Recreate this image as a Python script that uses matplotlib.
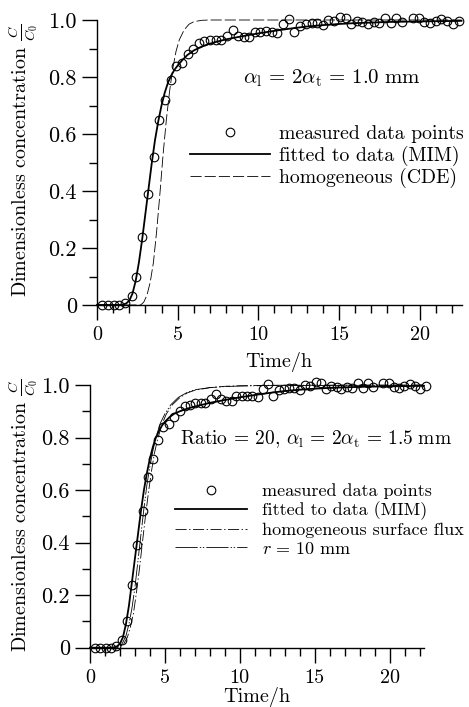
import matplotlib
matplotlib.use("Agg")
import matplotlib.pyplot as plt
from matplotlib.ticker import MultipleLocator, FixedLocator, FixedFormatter

plt.rcParams['font.family'] = 'serif'
plt.rcParams['font.serif'] = ['cmr10']
plt.rcParams['mathtext.fontset'] = 'cm'
plt.rcParams['axes.formatter.use_mathtext'] = True
plt.rcParams['lines.scale_dashes'] = False

# ---- measured data (same data in both panels) ----
t_meas = [0.33, 0.70, 1.05, 1.39, 1.76, 2.15, 2.44, 2.81, 3.16, 3.52, 3.87, 4.20, 4.57,
          4.88, 5.29, 5.63, 5.98, 6.31, 6.66, 7.03, 7.38, 7.69, 8.09, 8.42, 8.73, 9.10,
          9.45, 9.78, 10.13, 10.49, 10.84, 11.19, 11.54, 11.91, 12.24, 12.60, 12.95,
          13.30, 13.65, 14.00, 14.35, 14.70, 15.06, 15.41, 15.74, 16.09, 16.46, 16.79,
          17.15, 17.50, 17.87, 18.20, 18.55, 18.90, 19.59, 19.96, 20.29, 20.64, 20.99,
          21.34, 21.70, 22.05, 22.46]
c_meas = [0.0, 0.0, 0.0, 0.0, 0.006, 0.03, 0.10, 0.24, 0.39, 0.52, 0.65, 0.72, 0.79,
          0.84, 0.85, 0.88, 0.90, 0.92, 0.925, 0.93, 0.93, 0.93, 0.945, 0.966, 0.945, 0.94,
          0.94, 0.957, 0.957, 0.96, 0.957, 0.955, 0.985, 1.002, 0.957, 0.98, 0.985,
          0.988, 0.988, 0.982, 1.0, 0.996, 1.011, 1.006, 0.986, 0.998, 0.992, 0.986,
          0.992, 0.988, 1.008, 0.988, 1.008, 0.992, 1.006, 1.006, 0.992, 0.988, 0.996,
          1.003, 0.998, 0.986, 0.998]

# ---- top panel curves ----
t_mim = [0.0, 1.5, 1.8, 2.0, 2.2, 2.4, 2.6, 2.8, 3.0, 3.2, 3.4, 3.6, 3.8, 4.0, 4.2,
         4.4, 4.6, 4.8, 5.0, 5.3, 5.6, 6.0, 6.5, 7.0, 7.5, 8.0, 9.0, 10.0, 11.0, 12.0,
         13.0, 14.0, 15.0, 16.0, 17.0, 18.0, 20.0, 22.6]
c_mim = [0.0, 0.0, 0.005, 0.015, 0.04, 0.085, 0.15, 0.23, 0.32, 0.41, 0.50, 0.58, 0.645,
         0.70, 0.745, 0.78, 0.805, 0.825, 0.84, 0.86, 0.877, 0.893, 0.907, 0.917, 0.925,
         0.932, 0.943, 0.953, 0.962, 0.970, 0.977, 0.982, 0.986, 0.989, 0.991, 0.993,
         0.995, 0.997]

t_cde = [0.0, 2.7, 2.9, 3.1, 3.3, 3.5, 3.7, 3.9, 4.1, 4.3, 4.5, 4.7, 4.9, 5.1, 5.4,
         5.7, 6.0, 6.5, 7.0, 22.6]
c_cde = [0.0, 0.0, 0.01, 0.035, 0.08, 0.15, 0.26, 0.39, 0.53, 0.65, 0.75, 0.83, 0.89,
         0.93, 0.965, 0.985, 0.994, 0.999, 1.0, 1.0]

# ---- bottom panel curves ----
t_mim2 = [0.0, 1.5, 1.8, 2.0, 2.2, 2.4, 2.6, 2.8, 3.0, 3.2, 3.4, 3.6, 3.8, 4.0, 4.2,
          4.4, 4.6, 4.8, 5.0, 5.3, 5.6, 6.0, 6.5, 7.0, 7.5, 8.0, 9.0, 10.0, 11.0, 12.0,
          13.0, 14.0, 15.0, 16.0, 17.0, 18.0, 20.0, 22.3]
c_mim2 = [0.0, 0.0, 0.005, 0.015, 0.04, 0.09, 0.16, 0.25, 0.34, 0.43, 0.52, 0.60, 0.665,
          0.72, 0.765, 0.80, 0.825, 0.845, 0.86, 0.877, 0.89, 0.90, 0.91, 0.918, 0.925,
          0.932, 0.943, 0.953, 0.962, 0.970, 0.977, 0.982, 0.986, 0.989, 0.991, 0.993,
          0.995, 0.997]

t_hsf = [0.0, 1.8, 2.2, 2.5, 2.7, 2.9, 3.1, 3.3, 3.5, 3.7, 3.9, 4.1, 4.3, 4.5, 4.8,
         5.1, 5.5, 6.0, 6.5, 7.0, 8.0, 9.0, 10.0, 12.0, 22.3]
c_hsf = [0.0, 0.0, 0.01, 0.04, 0.08, 0.13, 0.21, 0.30, 0.40, 0.50, 0.59, 0.67, 0.74,
         0.79, 0.85, 0.89, 0.925, 0.952, 0.97, 0.98, 0.99, 0.995, 0.997, 0.999, 1.0]

t_r10 = [0.0, 1.7, 2.1, 2.4, 2.6, 2.8, 3.0, 3.2, 3.4, 3.6, 3.8, 4.0, 4.2, 4.4, 4.7,
         5.0, 5.4, 5.9, 6.5, 7.0, 8.0, 9.0, 10.0, 12.0, 22.3]
c_r10 = [0.0, 0.0, 0.01, 0.045, 0.09, 0.15, 0.23, 0.33, 0.43, 0.53, 0.62, 0.69, 0.75,
         0.80, 0.855, 0.89, 0.925, 0.953, 0.972, 0.982, 0.99, 0.994, 0.996, 0.998, 0.999]

yticks = [0.0, 0.2, 0.4, 0.6, 0.8, 1.0]
ytick_labels = ['0', '0.2', '0.4', '0.6', '0.8', '1.0']
xticks = [0, 5, 10, 15, 20]
xtick_labels = ['0', '5', '10', '15', '20']

FS_YTICK = 16
FS_XTICK = 14.5
FS_YLAB = 14.5

fig = plt.figure(figsize=(4.69, 7.07), dpi=100)
W, H = 469.0, 707.0


def style_axes(ax, xmax):
    ax.set_xlim(0, xmax)
    ax.set_ylim(0, 1.0)
    for s in ('top', 'right'):
        ax.spines[s].set_visible(False)
    for s in ('left', 'bottom'):
        ax.spines[s].set_linewidth(1.0)
    ax.yaxis.set_major_locator(FixedLocator(yticks))
    ax.yaxis.set_major_formatter(FixedFormatter(ytick_labels))
    ax.yaxis.set_minor_locator(MultipleLocator(0.1))
    ax.xaxis.set_major_locator(FixedLocator(xticks))
    ax.xaxis.set_major_formatter(FixedFormatter(xtick_labels))
    ax.xaxis.set_minor_locator(MultipleLocator(1))
    ax.tick_params(which='major', direction='out', length=10.5, width=1.0)
    ax.tick_params(axis='y', which='major', labelsize=FS_YTICK, pad=4)
    ax.tick_params(axis='x', which='major', labelsize=FS_XTICK, pad=5)
    ax.tick_params(which='minor', direction='out', length=5.5, width=1.0)
    ax.set_xlabel('Time/h', fontsize=FS_XTICK, labelpad=0)
    ax.set_ylabel(r'Dimensionless concentration $\frac{C}{C_0}$', fontsize=FS_YLAB)


# ---------------- top panel ----------------
ax1 = fig.add_axes([97 / W, 1 - 305 / H, 364.5 / W, 285 / H])
style_axes(ax1, 22.6)
ax1.plot(t_meas, c_meas, linestyle='none', marker='o', markersize=6.2,
         markerfacecolor='none', markeredgecolor='black', markeredgewidth=0.8,
         clip_on=False, label='measured data points', zorder=3)
ax1.plot(t_mim, c_mim, color='black', linewidth=1.3, label='fitted to data (MIM)',
         clip_on=False)
ax1.plot(t_cde, c_cde, color='black', linewidth=0.6, dashes=(8, 2.2),
         label='homogeneous (CDE)', clip_on=False)
ax1.text(332 / W, 1 - 78 / H, r'$\alpha_{\rm l}\,=\,2\alpha_{\rm t}\,=\,1.0\ {\rm mm}$',
         transform=fig.transFigure, ha='center', va='center', fontsize=15)
leg1 = ax1.legend(loc='upper left', bbox_to_anchor=(190 / W, 1 - 125 / H),
                  bbox_transform=fig.transFigure, frameon=False, fontsize=14.2,
                  handlelength=4.05, handletextpad=0.45, borderpad=0, borderaxespad=0,
                  labelspacing=0.12, numpoints=1)
ax1.xaxis.set_label_coords(0.5, -0.165)
ax1.yaxis.set_label_coords((40 - 97) / 364.5, 0.51)

# ---------------- bottom panel ----------------
ax2 = fig.add_axes([90 / W, 1 - 647.7 / H, 334 / W, 262.7 / H])
style_axes(ax2, 22.3)
ax2.plot(t_meas, c_meas, linestyle='none', marker='o', markersize=6.2,
         markerfacecolor='none', markeredgecolor='black', markeredgewidth=0.8,
         clip_on=False, label='measured data points', zorder=3)
ax2.plot(t_mim2, c_mim2, color='black', linewidth=1.3, label='fitted to data (MIM)',
         clip_on=False)
ax2.plot(t_hsf, c_hsf, color='black', linewidth=0.6, dashes=(8, 1.8, 1, 1.8),
         label='homogeneous surface flux', clip_on=False)
ax2.plot(t_r10, c_r10, color='black', linewidth=0.6, dashes=(16, 1.5, 1, 1.2, 1, 1.5),
         label=r'$r\,=\,10\ {\rm mm}$', clip_on=False)
ax2.text(316 / W, 1 - 439 / H, r'Ratio = 20, $\alpha_{\rm l}\,=\,2\alpha_{\rm t}\,=\,1.5\ {\rm mm}$',
         transform=fig.transFigure, ha='center', va='center', fontsize=14)
leg2 = ax2.legend(loc='upper left', bbox_to_anchor=(175 / W, 1 - 483 / H),
                  bbox_transform=fig.transFigure, frameon=False, fontsize=13,
                  handlelength=4.0, handletextpad=0.8, borderpad=0, borderaxespad=0,
                  labelspacing=0.14, numpoints=1)
ax2.xaxis.set_label_coords(0.5, -0.15)
ax2.yaxis.set_label_coords((40 - 90) / 334, 0.505)

fig.savefig('out.png', dpi=100)
